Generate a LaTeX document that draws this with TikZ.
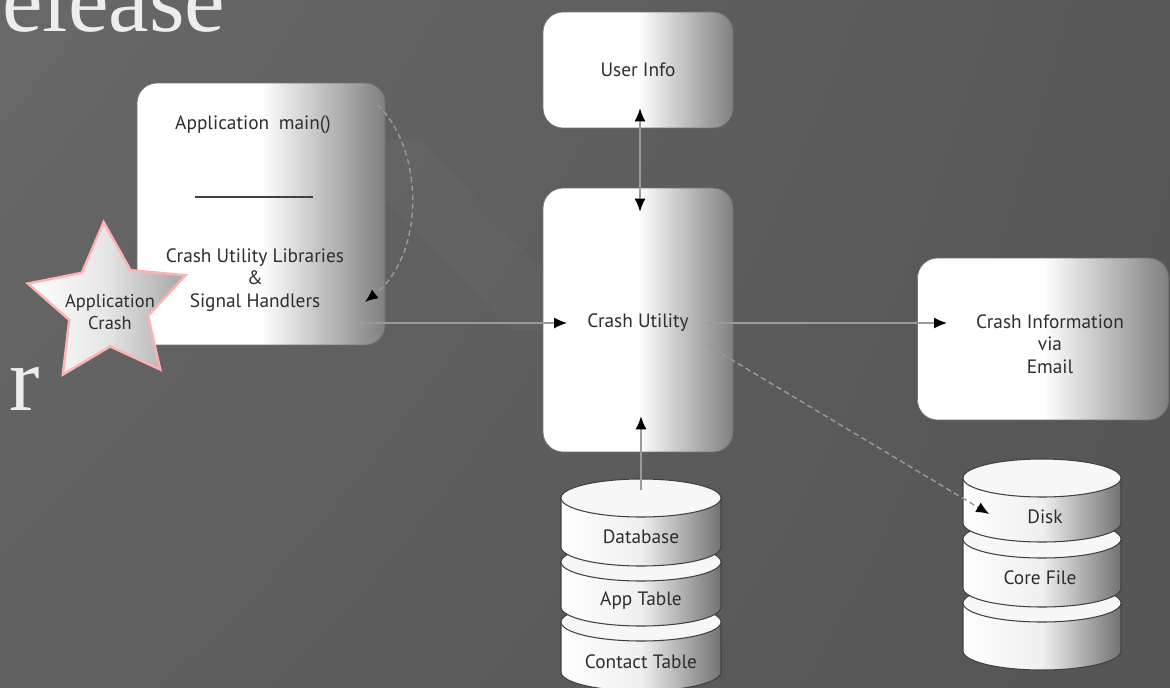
\documentclass[tikz,border=0pt]{standalone}
\usepackage{fontspec}
\usepackage{tikz}
\usetikzlibrary{arrows.meta}
\usetikzlibrary{calc}
\usetikzlibrary{positioning}
\usetikzlibrary{shapes.geometric}
\usetikzlibrary{shadings}
\newfontfamily\labelfont{PT Sans}
\newfontfamily\titlefont{Liberation Serif}
\definecolor{labeltext}{HTML}{2E2E2E}
\definecolor{linegrey}{HTML}{9A9A9A}
\definecolor{bgul}{HTML}{686868}
\definecolor{bgur}{HTML}{575757}
\definecolor{bgll}{HTML}{606060}
\definecolor{bglr}{HTML}{555555}

% one slice of a stacked disk: centre x, top y, bottom y, x radius
\newcommand{\diskslice}[4]{%
  \shade[left color=white, right color=black!55, middle color=white!94!black, draw=black!75, line width=0.6pt]
    (#1-#4,#2) -- (#1-#4,#3) arc[start angle=180, end angle=0, x radius=#4, y radius=19] -- (#1+#4,#2) -- cycle;
  \draw[fill=white!97!black, draw=black!75, line width=0.6pt] (#1,#2) ellipse[x radius=#4, y radius=19];
}

\begin{document}
\begin{tikzpicture}[x=0.02cm, y=-0.02cm,
    box/.style={draw=black!55, line width=0.4pt, rounded corners=0.4cm,
      left color=white, right color=black!50, middle color=white},
    lbl/.style={font=\labelfont\fontsize{11}{13}\selectfont, text=labeltext, align=center},
    titletext/.style={font=\titlefont\fontsize{52}{52}\selectfont, text=white!93!black},
    arr/.style={draw=linegrey, line width=0.8pt, -{Latex[length=2.6mm,width=2.2mm,color=black]}},
    dasharr/.style={arr, dash pattern=on 1.1mm off 0.7mm},
    crashstar/.style={star, star points=5, star point ratio=2, minimum size=3.32cm, inner sep=0pt,
      shape border rotate=3, draw=red!30!white, line width=1.4pt,
      left color=white, right color=black!35, middle color=white!90!black}]
  \useasboundingbox (0,0) rectangle (1170,687);

  % background
  \shade[upper left=bgul, upper right=bgur, lower left=bgll, lower right=bglr]
    (0,0) rectangle (1170,687);
  \fill[white, opacity=0.025] (330,140) -- (420,140) -- (600,330) -- (510,330) -- cycle;

  % slide title remains
  \node[titletext, anchor=base west] (ttlease) at (-4,31) {elease};
  \node[titletext, anchor=base west] (ttr) at (3,410) {r};

  % boxes
  \node[box, minimum width=4.96cm, minimum height=5.24cm] (appbox) at (261,214) {};
  \node[box, minimum width=3.8cm, minimum height=2.32cm] (userbox) at (638,70) {};
  \node[box, minimum width=3.8cm, minimum height=5.28cm] (crashbox) at (638,320) {};
  \node[box, minimum width=5.02cm, minimum height=3.24cm] (mailbox) at (1043,339) {};

  \node[lbl] (appmain) at (253,125) {Application\enspace main()};
  \draw[black!75, line width=0.8pt] (195,197) -- (313,197);
  \node[lbl, font=\labelfont\fontsize{11}{12.8}\selectfont] (applib) at (255,280) {Crash Utility Libraries\\\&\\Signal Handlers};
  \node[lbl] (usertxt) at (userbox) {User Info};
  \node[lbl] (crashtxt) at (638,323) {Crash Utility};
  \node[lbl, font=\labelfont\fontsize{11}{12.8}\selectfont] (mailtxt) at (1050,344) {Crash Information\\via\\Email};

  % database stack
  \diskslice{641}{622}{672}{80}
  \diskslice{641}{562}{607}{80}
  \diskslice{641}{498}{547}{80}
  \node[lbl] (dbtxt) at (641,537) {Database};
  \node[lbl] (apptbl) at (641,601) {App Table};
  \node[lbl] (contbl) at (641,662) {Contact Table};
  \coordinate (dbtop) at (641,490);

  % disk stack
  \diskslice{1042}{603}{651}{79}
  \diskslice{1042}{539}{588}{79}
  \diskslice{1042}{478}{523}{79}
  \node[lbl] (disktxt) at (1045,517) {Disk};
  \node[lbl] (coretxt) at (1040,578) {Core File};

  % star
  \node[crashstar] (crash) at (108,305) {};
  \node[lbl, font=\labelfont\fontsize{10.5}{12.5}\selectfont] (crashlbl) at (110,312) {Application\\Crash};

  % connectors
  \coordinate (loopin) at ($(appbox.north east)+(-8,22)$);
  \coordinate (loopout) at (365,302);
  \draw[dasharr] (loopin) .. controls (425,150) and (425,255) .. (loopout);

  \coordinate (appout) at (358,323);
  \draw[arr] (appout) -- ($(crashtxt.west)+(-14,0)$);
  \coordinate (mailin) at (947,323);
  \draw[arr] ($(crashtxt.east)+(12,0)$) -- (mailin);
  \draw[arr, {Latex[length=2.6mm,width=2.2mm,color=black]}-{Latex[length=2.6mm,width=2.2mm,color=black]}]
    ($(userbox.south)+(2,-20)$) -- ($(crashbox.north)+(2,24)$);
  \draw[arr] (dbtop) -- ($(crashbox.south)+(3,-36)$);
  \coordinate (diagout) at (707,345);
  \draw[dasharr] (diagout) -- ($(disktxt.west)+(-32,-3)$);
\end{tikzpicture}
\end{document}
